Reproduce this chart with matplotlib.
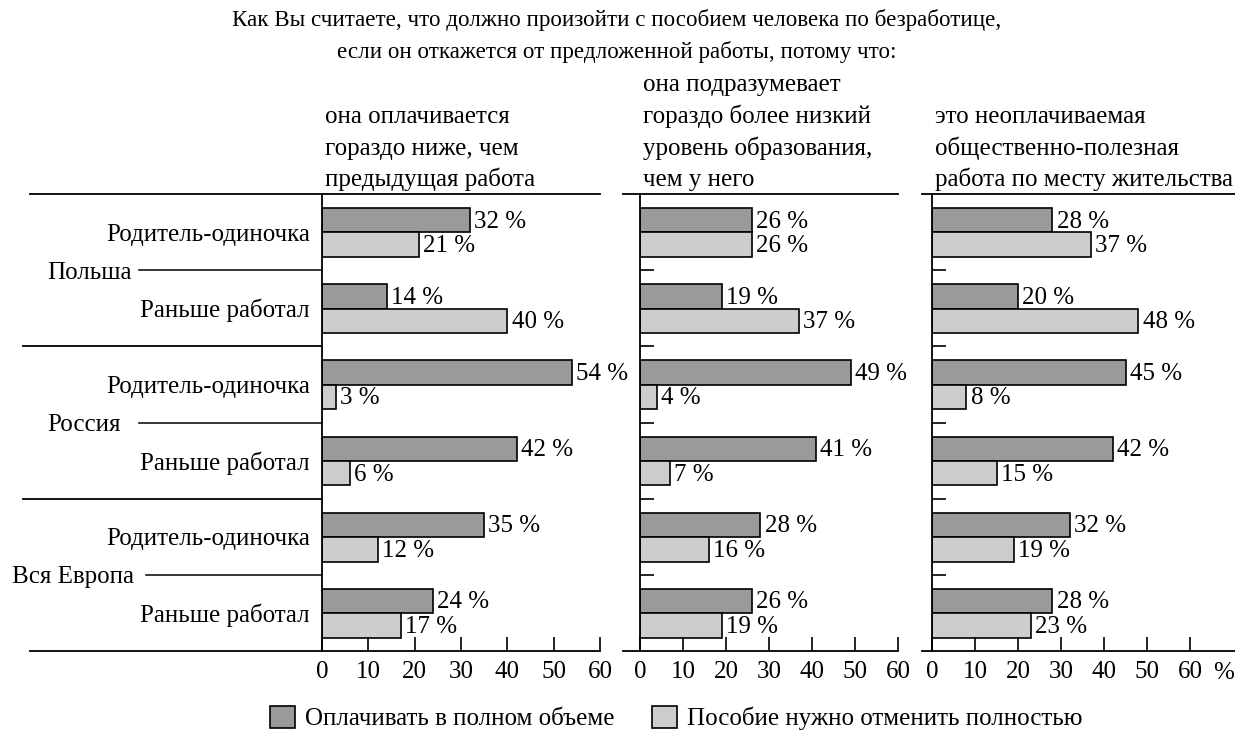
import matplotlib
matplotlib.use("Agg")
import matplotlib.pyplot as plt
from matplotlib.transforms import Affine2D
from matplotlib.lines import Line2D
from matplotlib.patches import Patch

W, H = 1235, 731

title_lines = [
    "Как Вы считаете, что должно произойти с пособием человека по безработице,",
    "если он откажется от предложенной работы, потому что:",
]
questions = [
    ["она оплачивается", "гораздо ниже, чем", "предыдущая работа"],
    ["она подразумевает", "гораздо более низкий", "уровень образования,", "чем у него"],
    ["это неоплачиваемая", "общественно-полезная", "работа по месту жительства"],
]
countries = ["Польша", "Россия", "Вся Европа"]
subgroups = ["Родитель-одиночка", "Раньше работал"]
series = ["Оплачивать в полном объеме", "Пособие нужно отменить полностью"]

# rows: Poland SP, Poland PW, Russia SP, Russia PW, Europe SP, Europe PW
pay_full = [
    [32, 14, 54, 42, 35, 24],
    [26, 19, 49, 41, 28, 26],
    [28, 20, 45, 42, 32, 28],
]
cancel = [
    [21, 40, 3, 6, 12, 17],
    [26, 37, 4, 7, 16, 19],
    [37, 48, 8, 15, 19, 23],
]
xticks = [0, 10, 20, 30, 40, 50, 60]

DARK = "#9a9a9a"
LIGHT = "#cdcdcd"
FONT = "Liberation Serif"
FS = 18

plt.rcParams["font.family"] = FONT

fig = plt.figure(figsize=(W / 100, H / 100), dpi=100)
# pixel coordinates, y downwards
px = Affine2D().scale(1 / W, -1 / H).translate(0, 1) + fig.transFigure


def hline(x0, x1, y, lw=1.3):
    fig.add_artist(Line2D([x0, x1], [y, y], transform=px, color="black", lw=lw))


top, bottom = 194, 651
panels = [(322, 600), (640, 898), (932, 1190)]
line_ext = [(30, 600), (623, 898), (922, 1235)]

for k, (x0, x1) in enumerate(panels):
    ax = fig.add_axes([x0 / W, 1 - bottom / H, (x1 - x0) / W, (bottom - top) / H])
    n = len(pay_full[k])
    ys = list(range(n))
    ax.barh([y + 0.345 for y in ys], pay_full[k], height=0.32, color=DARK,
            edgecolor="black", lw=1.2)
    ax.barh([y + 0.665 for y in ys], cancel[k], height=0.32, color=LIGHT,
            edgecolor="black", lw=1.2)
    for y, v in zip(ys, pay_full[k]):
        ax.annotate(f"{v} %", (v, y + 0.345), xytext=(3, -1), textcoords="offset points",
                    va="center", ha="left", fontsize=FS)
    for y, v in zip(ys, cancel[k]):
        ax.annotate(f"{v} %", (v, y + 0.665), xytext=(3, -1), textcoords="offset points",
                    va="center", ha="left", fontsize=FS)
    ax.set_xlim(0, 60)
    ax.set_ylim(n, 0)
    ax.set_xticks(xticks)
    ax.tick_params(axis="x", direction="in", length=10, width=1.2, pad=7, labelsize=FS)
    if k == 0:
        ax.set_yticks([])
    else:
        ax.set_yticks([1, 2, 3, 4, 5])
        ax.tick_params(axis="y", direction="in", length=10, width=1.2, labelleft=False)
    for s in ["top", "right", "bottom"]:
        ax.spines[s].set_visible(False)
    ax.spines["left"].set_linewidth(1.3)

    lx0, lx1 = line_ext[k]
    hline(lx0, lx1, top)
    hline(lx0, lx1, bottom)

    for i, line in enumerate(reversed(questions[k])):
        fig.text(x0 + 3, 186 - i * 31.5, line, transform=px, fontsize=FS,
                 ha="left", va="baseline")

fig.text(1224, 673, "%", transform=px, fontsize=FS, ha="center", va="center")

# left block: subgroup labels, country lines, separators
row_h = (bottom - top) / 6
for i in range(6):
    yc = top + (i + 0.5) * row_h
    fig.text(310, yc, subgroups[i % 2], transform=px, fontsize=FS,
             ha="right", va="center_baseline")
country_x = [47, 47, 12]
line_start = [139, 139, 146]
for j, name in enumerate(countries):
    yc = top + (2 * j + 1) * row_h
    fig.text(country_x[j], yc, name, transform=px, fontsize=FS,
             ha="left", va="center_baseline")
    hline(line_start[j], 322, yc, lw=1.1)
for j in (1, 2):
    hline(23, 322, top + 2 * j * row_h)

for i, line in enumerate(title_lines):
    fig.text(617, 26 + i * 32, line, transform=px, fontsize=16.6,
             ha="center", va="baseline")

handles = [Patch(facecolor=DARK, edgecolor="black", lw=1.2),
           Patch(facecolor=LIGHT, edgecolor="black", lw=1.2)]
fig.legend(handles, series, loc="center", bbox_to_anchor=(676 / W, 1 - 718 / H),
           ncol=2, frameon=False, fontsize=FS, handlelength=1.0, handleheight=1.0,
           handletextpad=0.4, columnspacing=1.5, borderaxespad=0)

fig.savefig("out.png", dpi=100)
